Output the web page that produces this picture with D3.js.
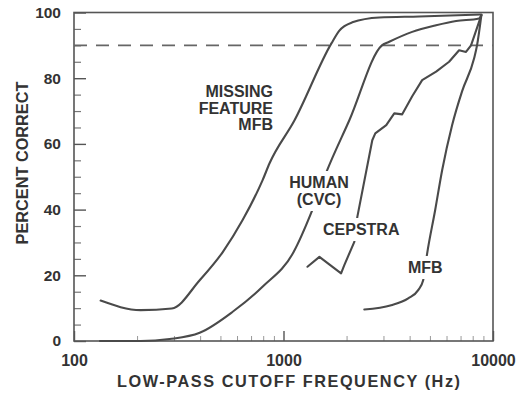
<!DOCTYPE html>
<html>
<head>
<meta charset="utf-8">
<script src="https://cdn.jsdelivr.net/npm/d3@7"></script>
<style>
  html, body { margin: 0; padding: 0; background: #fff; }
  svg { display: block; }
  text { font-family: "Liberation Sans", Arial, Helvetica, sans-serif; font-weight: bold; fill: #333; }
</style>
</head>
<body>
<svg id="chart" width="518" height="395"></svg>
<script>
// Axis ticks
const freqTicks = [100, 1000, 10000];
const freqMinorTicks = [200, 300, 400, 500, 600, 700, 800, 900, 2000, 3000, 4000, 5000, 6000, 7000, 8000, 9000];
const pctTicks = [0, 20, 40, 60, 80, 100];
const pctMinorTicks = [5, 10, 15, 25, 30, 35, 45, 50, 55, 65, 70, 75, 85, 90, 95];
const criterionPct = 90;

// Missing-feature MFB recognizer
const missingHz  = [134, 208, 293, 398, 512, 638, 794, 858, 1129, 1693, 1848, 2131, 2865, 4443, 8800];
const missingPct = [12.3, 9.4, 9.9, 18.5, 27, 36.8, 48.9, 54.1, 67.2, 90.6, 94.5, 97, 98.5, 98.8, 99.4];

// Human listeners (CVC)
const humanHz  = [133, 208, 286, 398, 572, 794, 1116, 1360, 1602, 2062, 2950, 3198, 4115, 5352, 6667, 8576, 8800];
const humanPct = [0, 0, 0.6, 2.5, 8.9, 16.5, 27, 39.2, 51.4, 67.2, 90, 91.1, 94.1, 96.1, 97.4, 98.2, 99.2];

// Cepstral recognizer
const cepstraHz  = [1301, 1484, 1883, 1951, 2178, 2251, 2653, 2742, 3094, 3378, 3687, 4115, 4590, 5352, 6173, 6889, 7433, 7855, 8800];
const cepstraPct = [22.6, 25.6, 20.6, 23.1, 30.2, 37.8, 61.1, 63.2, 65.7, 69.3, 69.0, 74.5, 79.4, 82, 85, 88.5, 88, 90, 99.2];

// Mel filter-bank recognizer
const mfbHz  = [2430, 3268, 3938, 4395, 4642, 4850, 5294, 5718, 6379, 7117, 8120, 8390, 8800];
const mfbPct = [9.6, 10.9, 13, 15.5, 18.5, 26.7, 39.8, 52, 65.7, 76, 86, 90, 99.2];

const svg = d3.select("#chart");
svg.append("rect").attr("width", 518).attr("height", 395).attr("fill", "#fff");

const x = d3.scaleLog().domain([100, 10000]).range([74, 493]);
const y = d3.scaleLinear().domain([0, 100]).range([341, 12.5]);

const ink = "#4a4a4a";

// minor ticks
svg.append("g").attr("transform", "translate(74,0)")
  .call(d3.axisLeft(y).tickValues(pctMinorTicks).tickSize(-7).tickFormat(""))
  .call(g => g.select(".domain").remove())
  .call(g => g.selectAll("line").attr("stroke", "#777").attr("stroke-width", 1.2));

svg.append("g").attr("transform", "translate(0,341)")
  .call(d3.axisBottom(x).tickValues(freqMinorTicks).tickSize(-5).tickFormat(""))
  .call(g => g.select(".domain").remove())
  .call(g => g.selectAll("line").attr("stroke", "#999").attr("stroke-width", 1));

// major ticks and labels
svg.append("g").attr("transform", "translate(74,0)")
  .call(d3.axisLeft(y).tickValues(pctTicks).tickSize(-12).tickPadding(13).tickFormat(d3.format("d")))
  .call(g => g.select(".domain").remove())
  .call(g => g.selectAll("line").attr("stroke", "#555").attr("stroke-width", 1.4))
  .call(g => g.selectAll("text").attr("font-size", 15.5).attr("fill", "#333")
    .attr("font-family", "'Liberation Sans', Arial, sans-serif").attr("font-weight", "bold"));

svg.append("g").attr("transform", "translate(0,341)")
  .call(d3.axisBottom(x).tickValues(freqTicks).tickSize(-10).tickPadding(14).tickFormat(d3.format("d")))
  .call(g => g.select(".domain").remove())
  .call(g => g.selectAll("line").attr("stroke", "#555").attr("stroke-width", 1.4))
  .call(g => g.selectAll("text").attr("font-size", 16).attr("fill", "#333")
    .attr("font-family", "'Liberation Sans', Arial, sans-serif").attr("font-weight", "bold"));

// plot frame
svg.append("rect")
  .attr("x", x(100)).attr("y", y(100))
  .attr("width", x(10000) - x(100)).attr("height", y(0) - y(100))
  .attr("fill", "none").attr("stroke", "#555").attr("stroke-width", 1.6);

// 90% criterion
svg.append("line")
  .attr("x1", x(100)).attr("x2", x(10000))
  .attr("y1", y(criterionPct)).attr("y2", y(criterionPct))
  .attr("stroke", "#666").attr("stroke-width", 1.6).attr("stroke-dasharray", "13,9");

function series(hz, pct) { return hz.map((h, i) => [h, pct[i]]); }

const smooth = d3.line().x(d => x(d[0])).y(d => y(d[1])).curve(d3.curveMonotoneX);
const straight = d3.line().x(d => x(d[0])).y(d => y(d[1]));

[
  { data: series(missingHz, missingPct), gen: smooth },
  { data: series(humanHz, humanPct), gen: smooth },
  { data: series(cepstraHz, cepstraPct), gen: straight },
  { data: series(mfbHz, mfbPct), gen: smooth }
].forEach(s => {
  svg.append("path")
    .attr("d", s.gen(s.data))
    .attr("fill", "none").attr("stroke", ink).attr("stroke-width", 2.1)
    .attr("stroke-linejoin", "round").attr("stroke-linecap", "round");
});

// curve labels, each on a white patch so the line breaks around it
function label(lines, xPos, baselines, anchor) {
  const g = svg.append("g");
  const bg = g.append("rect").attr("fill", "#fff");
  lines.forEach((t, i) => {
    g.append("text").attr("x", xPos).attr("y", baselines[i])
      .attr("text-anchor", anchor).attr("font-size", 16).text(t);
  });
  const b = g.node().getBBox();
  bg.attr("x", b.x - 2).attr("y", b.y - 3).attr("width", b.width + 4).attr("height", b.height + 6);
}

label(["MISSING", "FEATURE", "MFB"], 273, [97, 113.5, 130], "end");
label(["HUMAN", "(CVC)"], 319, [188, 205], "middle");
label(["CEPSTRA"], 323, [235], "start");
label(["MFB"], 408, [273], "start");

// axis titles
svg.append("text")
  .attr("x", 288.5).attr("y", 387).attr("text-anchor", "middle")
  .attr("font-size", 16.3).attr("textLength", 343).attr("lengthAdjust", "spacing")
  .text("LOW-PASS CUTOFF FREQUENCY (Hz)");

svg.append("text")
  .attr("transform", "translate(28,163) rotate(-90)")
  .attr("text-anchor", "middle").attr("font-size", 16.3)
  .text("PERCENT CORRECT");
</script>
</body>
</html>
